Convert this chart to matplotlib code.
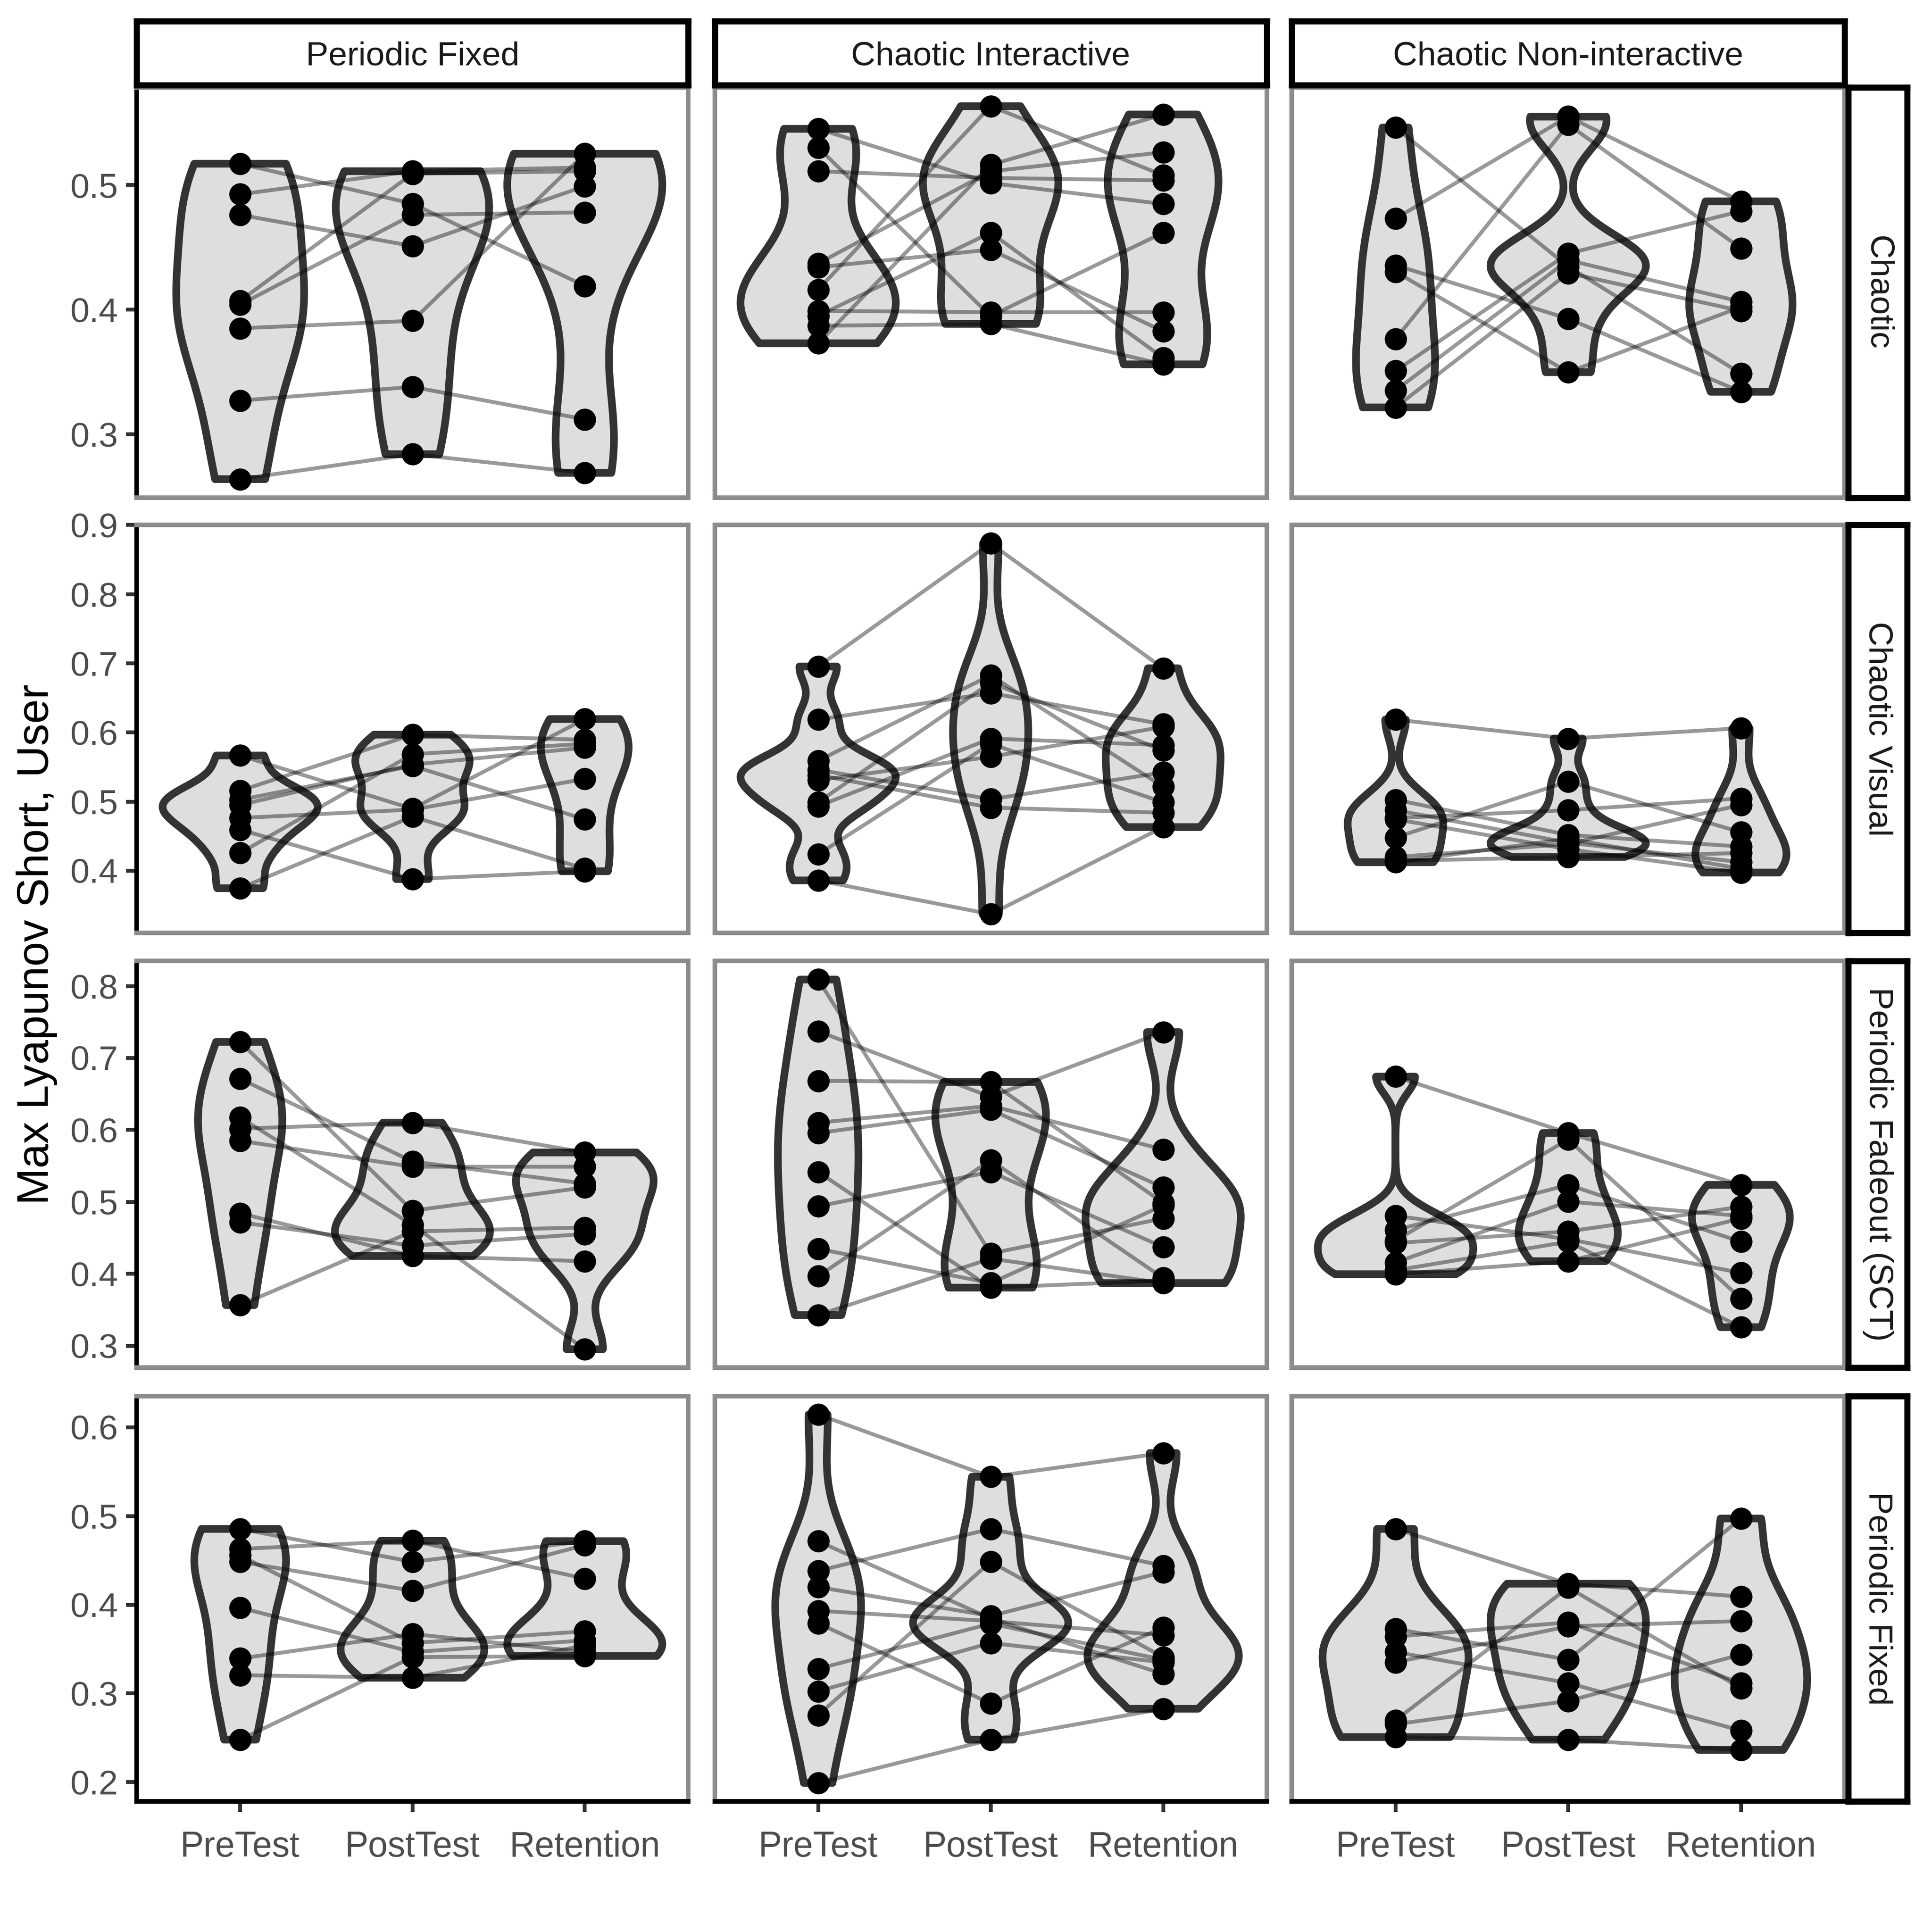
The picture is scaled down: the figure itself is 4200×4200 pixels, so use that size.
import numpy as np
import matplotlib
matplotlib.use("Agg")
import matplotlib.pyplot as plt
from matplotlib.ticker import MultipleLocator, FormatStrFormatter

plt.rcParams['font.family'] = ['Liberation Sans', 'DejaVu Sans']

# ---------------- data ----------------
phases = ["PreTest", "PostTest", "Retention"]
col_labels = ["Periodic Fixed", "Chaotic Interactive", "Chaotic Non-interactive"]
row_labels = ["Chaotic", "Chaotic Visual", "Periodic Fadeout (SCT)", "Periodic Fixed"]

# row "Chaotic"
ch_pf_pre  = [0.517, 0.4925, 0.476, 0.407, 0.404, 0.385, 0.327, 0.264]
ch_pf_post = [0.485, 0.511, 0.451, 0.509, 0.476, 0.391, 0.338, 0.284]
ch_pf_ret  = [0.419, 0.514, 0.499, 0.511, 0.478, 0.525, 0.312, 0.269]

ch_ci_pre  = [0.545, 0.530, 0.511, 0.437, 0.434, 0.416, 0.399, 0.395, 0.387, 0.373]
ch_ci_post = [0.5015, 0.3948, 0.5056, 0.5109, 0.4481, 0.5632, 0.3979, 0.4617, 0.3885, 0.5161]
ch_ci_ret  = [0.4847, 0.4617, 0.5036, 0.5262, 0.3826, 0.5077, 0.3979, 0.3613, 0.3561, 0.5565]

ch_cn_pre  = [0.546, 0.473, 0.4356, 0.4303, 0.3764, 0.3508, 0.3351, 0.3215]
ch_cn_post = [0.4345, 0.5548, 0.3927, 0.3498, 0.5485, 0.445, 0.4397, 0.4293]
ch_cn_ret  = [0.3487, 0.4868, 0.3341, 0.4021, 0.4492, 0.4789, 0.4063, 0.399]

# row "Chaotic Visual"
cv_pf_pre  = [0.5667, 0.5159, 0.5027, 0.4952, 0.4764, 0.4595, 0.4256, 0.3748]
cv_pf_post = [0.4896, 0.5968, 0.5516, 0.5535, 0.4885, 0.3880, 0.5686, 0.4783]
cv_pf_ret  = [0.6194, 0.5893, 0.4745, 0.5780, 0.5328, 0.3993, 0.5836, 0.4030]

cv_ci_pre  = [0.6954, 0.6186, 0.5592, 0.5460, 0.5385, 0.5310, 0.4990, 0.4933, 0.4237, 0.3861]
cv_ci_post = [0.8734, 0.6570, 0.6826, 0.5035, 0.4914, 0.5648, 0.6721, 0.5912, 0.5836, 0.3372]
cv_ci_ret  = [0.6928, 0.6119, 0.5215, 0.5422, 0.4839, 0.6081, 0.5742, 0.5817, 0.4990, 0.4632]

cv_cn_pre  = [0.6186, 0.5027, 0.4877, 0.4764, 0.4745, 0.4482, 0.4199, 0.4143, 0.4124]
cv_cn_post = [0.5912, 0.4519, 0.4406, 0.4877, 0.4312, 0.5291, 0.4388, 0.4199, 0.4463]
cv_cn_ret  = [0.6062, 0.4350, 0.4124, 0.5046, 0.3974, 0.4557, 0.4952, 0.4256, 0.4030]

# row "Periodic Fadeout (SCT)"
pfo_pf_pre  = [0.7223, 0.6712, 0.6173, 0.6018, 0.5849, 0.4842, 0.4716, 0.3565]
pfo_pf_post = [0.4878, 0.5561, 0.4680, 0.6101, 0.5489, 0.4248, 0.4392, 0.4590]
pfo_pf_ret  = [0.5201, 0.5255, 0.2953, 0.5687, 0.5489, 0.4176, 0.4554, 0.4644]

pfo_ci_pre  = [0.8090, 0.7371, 0.6683, 0.6101, 0.5957, 0.5417, 0.4939, 0.4349, 0.3968, 0.3428]
pfo_ci_post = [0.4284, 0.6460, 0.6665, 0.6335, 0.6281, 0.3809, 0.5417, 0.3871, 0.5579, 0.4212]
pfo_ci_ret  = [0.4770, 0.7360, 0.4986, 0.5730, 0.5201, 0.3906, 0.4374, 0.4950, 0.3942, 0.3871]

pfo_cn_pre  = [0.6741, 0.4806, 0.4608, 0.4464, 0.4428, 0.4158, 0.4050, 0.3996]
pfo_cn_post = [0.5957, 0.4482, 0.5237, 0.5867, 0.4590, 0.5004, 0.4446, 0.4176]
pfo_cn_ret  = [0.5237, 0.4014, 0.4446, 0.3655, 0.4932, 0.4806, 0.3259, 0.4770]

# row "Periodic Fixed"
pfx_pf_pre  = [0.4855, 0.4629, 0.4556, 0.4484, 0.3967, 0.3394, 0.3206, 0.2479]
pfx_pf_post = [0.4484, 0.4722, 0.3569, 0.4158, 0.3467, 0.3670, 0.3177, 0.3409]
pfx_pf_ret  = [0.4716, 0.4295, 0.3700, 0.4672, 0.3598, 0.3467, 0.3540, 0.3423]

pfx_ci_pre  = [0.6145, 0.4716, 0.4382, 0.4199, 0.3932, 0.3792, 0.3278, 0.3025, 0.2755, 0.1991]
pfx_ci_post = [0.5442, 0.3845, 0.4855, 0.3874, 0.3816, 0.2886, 0.3787, 0.3569, 0.4484, 0.2479]
pfx_ci_ret  = [0.5710, 0.3220, 0.4440, 0.4368, 0.3656, 0.3743, 0.3380, 0.3351, 0.3409, 0.2828]

pfx_cn_pre  = [0.4855, 0.3728, 0.3641, 0.3467, 0.3351, 0.2697, 0.2654, 0.2508]
pfx_cn_post = [0.4237, 0.3380, 0.3801, 0.3118, 0.3757, 0.4194, 0.2915, 0.2479]
pfx_cn_ret  = [0.4092, 0.4972, 0.3118, 0.2581, 0.3816, 0.3060, 0.3438, 0.2363]

panels = {
    (0, 0): (ch_pf_pre, ch_pf_post, ch_pf_ret),
    (0, 1): (ch_ci_pre, ch_ci_post, ch_ci_ret),
    (0, 2): (ch_cn_pre, ch_cn_post, ch_cn_ret),
    (1, 0): (cv_pf_pre, cv_pf_post, cv_pf_ret),
    (1, 1): (cv_ci_pre, cv_ci_post, cv_ci_ret),
    (1, 2): (cv_cn_pre, cv_cn_post, cv_cn_ret),
    (2, 0): (pfo_pf_pre, pfo_pf_post, pfo_pf_ret),
    (2, 1): (pfo_ci_pre, pfo_ci_post, pfo_ci_ret),
    (2, 2): (pfo_cn_pre, pfo_cn_post, pfo_cn_ret),
    (3, 0): (pfx_pf_pre, pfx_pf_post, pfx_pf_ret),
    (3, 1): (pfx_ci_pre, pfx_ci_post, pfx_ci_ret),
    (3, 2): (pfx_cn_pre, pfx_cn_post, pfx_cn_ret),
}

# ---------------- helpers ----------------
def nrd0(x):
    x = np.asarray(x, float)
    sd = x.std(ddof=1)
    q75, q25 = np.percentile(x, [75, 25])
    lo = min(sd, (q75 - q25) / 1.34)
    if lo <= 0:
        lo = sd if sd > 0 else 1.0
    return 0.9 * lo * x.size ** -0.2


def kde(x, grid):
    x = np.asarray(x, float)
    bw = nrd0(x)
    z = (grid[:, None] - x[None, :]) / bw
    return np.exp(-0.5 * z ** 2).sum(1) / (x.size * bw * np.sqrt(2 * np.pi))


S = 1568.0
def fx(p):
    return p / S
def fy(p):
    return 1 - p / S

col_x = [(111, 558.5), (580, 1028), (1048.5, 1497)]
row_y = [(71, 404), (426, 757), (780, 1110), (1133, 1462)]

fig = plt.figure(figsize=(7, 7), dpi=600)
fig.patch.set_facecolor('white')

tick_col = '#333333'
lab_col = '#4D4D4D'

for r in range(4):
    allv = np.concatenate([np.concatenate(panels[(r, c)]) for c in range(3)])
    lo, hi = allv.min(), allv.max()
    pad = 0.05 * (hi - lo)
    y0, y1 = row_y[r]
    for c in range(3):
        x0, x1 = col_x[c]
        ax = fig.add_axes([fx(x0), fy(y1), (x1 - x0) / S, (y1 - y0) / S])
        groups = [np.asarray(g, float) for g in panels[(r, c)]]
        grids, dens = [], []
        for g in groups:
            grid = np.linspace(g.min(), g.max(), 512)
            grids.append(grid)
            dens.append(kde(g, grid))
        m = max(d.max() for d in dens)
        for i, (grid, d) in enumerate(zip(grids, dens)):
            pos = i + 1
            half = 0.45 * d / m
            ax.fill(np.r_[pos - half, (pos + half)[::-1]], np.r_[grid, grid[::-1]],
                    facecolor='#DEDEDE', edgecolor='#333333', linewidth=2.0,
                    joinstyle='round', zorder=1)
        pre, post, ret = groups
        for k in range(len(pre)):
            ax.plot([1, 2, 3], [pre[k], post[k], ret[k]], color='black', alpha=0.4,
                    linewidth=1.0, zorder=2, solid_capstyle='butt')
        for i, g in enumerate(groups):
            ax.scatter(np.full(g.size, i + 1), g, s=5.8 ** 2, c='black',
                       linewidths=0, zorder=3)
        ax.set_xlim(0.4, 3.6)
        ax.set_ylim(lo - pad, hi + pad)
        ax.set_xticks([1, 2, 3])
        ax.set_xticklabels(phases)
        ax.yaxis.set_major_locator(MultipleLocator(0.1))
        ax.yaxis.set_major_formatter(FormatStrFormatter('%.1f'))
        for sp in ax.spines.values():
            sp.set_color('#8C8C8C')
            sp.set_linewidth(1.2)
        ax.tick_params(axis='both', colors=tick_col, length=2.75, width=1.0,
                       labelsize=8.8, labelcolor=lab_col, pad=2.2)
        ax.tick_params(axis='x', pad=4.8, labelsize=9.2)
        ax.tick_params(axis='y', labelsize=9.0)
        if c == 0:
            ax.spines['left'].set_color('black')
            ax.spines['left'].set_linewidth(1.2)
        else:
            ax.tick_params(axis='y', left=False, labelleft=False)
        if r == 3:
            ax.spines['bottom'].set_color('black')
            ax.spines['bottom'].set_linewidth(1.2)
        else:
            ax.tick_params(axis='x', bottom=False, labelbottom=False)

# top strips
for c in range(3):
    x0, x1 = col_x[c]
    sax = fig.add_axes([fx(x0), fy(69), (x1 - x0) / S, 52 / S])
    sax.set_xticks([]); sax.set_yticks([])
    sax.set_facecolor('white')
    for sp in sax.spines.values():
        sp.set_color('black'); sp.set_linewidth(1.6)
    sax.text(0.5, 0.5, col_labels[c], ha='center', va='center_baseline', fontsize=8.8,
             color='#1A1A1A', transform=sax.transAxes)

# right strips
for r in range(4):
    y0, y1 = row_y[r]
    sax = fig.add_axes([fx(1500), fy(y1), 48 / S, (y1 - y0) / S])
    sax.set_xticks([]); sax.set_yticks([])
    sax.set_facecolor('white')
    for sp in sax.spines.values():
        sp.set_color('black'); sp.set_linewidth(1.6)
    sax.text(0.5, 0.5, row_labels[r], ha='center', va='center', fontsize=8.8,
             color='#1A1A1A', rotation=-90, transform=sax.transAxes)

fig.text(fx(30), fy(766.5), "Max Lyapunov Short, User", rotation=90,
         ha='center', va='center', fontsize=11.5, color='black')

fig.savefig('out.png', dpi=600, facecolor='white')
